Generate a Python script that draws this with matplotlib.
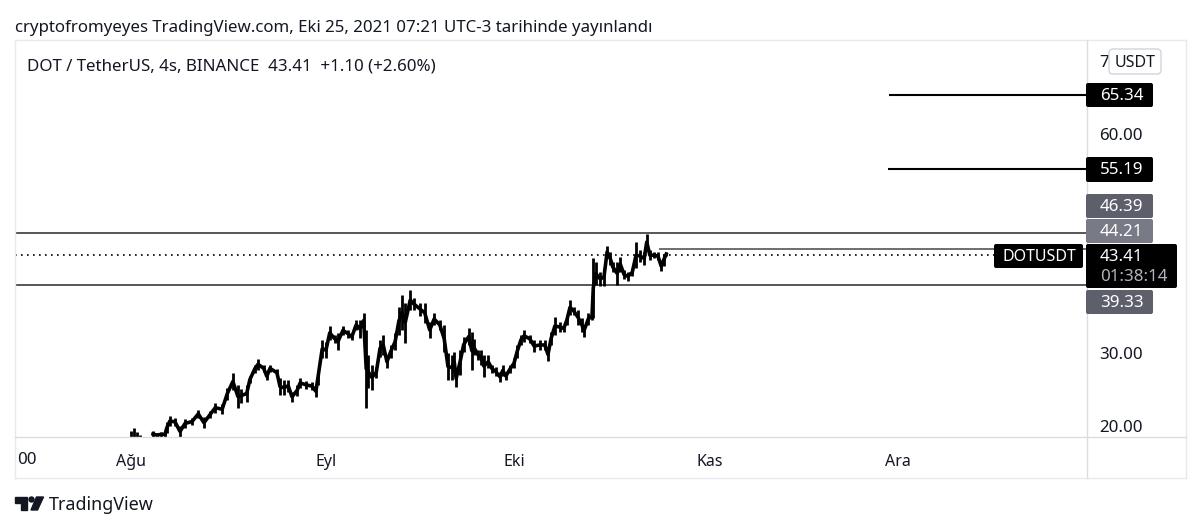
import numpy as np
import matplotlib
matplotlib.use("Agg")
import matplotlib.pyplot as plt
from matplotlib.lines import Line2D
from matplotlib.patches import FancyBboxPatch, Polygon, Circle

# --- DATA ---
# days since Aug 1
bar_days = [0.0, 0.5, 1.0, 1.4, 3.5, 4.1, 4.8, 5.4, 5.7, 6.2, 7.0, 7.8, 8.6, 9.7, 10.7, 11.6, 12.6, 13.4, 14.5, 15.3,
            16.2, 17.0, 17.5, 18.4, 18.9, 19.7, 20.2, 21.1, 21.6, 22.1, 23.2, 23.7, 24.3, 25.0, 25.6, 26.4, 26.9, 27.8, 28.8, 29.4,
            29.7, 30.4, 31.0, 31.6, 32.4, 32.9, 33.7, 34.5, 35.1, 35.8, 36.4, 37.0, 37.4, 37.7, 38.3, 39.0, 39.6, 40.1, 40.7, 41.3,
            42.0, 42.6, 43.1, 43.6, 44.4, 45.0, 46.0, 46.7, 47.5, 48.2, 49.1, 49.8, 50.4, 51.0, 51.4, 51.7, 52.3, 52.9, 53.7, 54.2,
            54.5, 55.2, 55.7, 56.1, 56.8, 57.4, 58.0, 58.7, 59.1, 59.6, 60.3, 60.9, 61.4, 62.0, 62.5, 63.4, 64.1, 65.0, 65.8, 66.3,
            66.8, 67.4, 68.2, 68.8, 69.3, 69.8, 70.4, 71.1, 71.7, 72.0, 72.7, 73.3, 73.5, 73.9, 74.6, 75.2, 75.7, 76.2, 76.6, 77.3,
            77.8, 78.4, 79.0, 79.7, 80.3, 80.9, 81.6, 82.0, 82.5, 83.2, 83.8, 84.3, 84.7, 85.1]
bar_highs = [19.3, 19.7, 19.2, 18.8, 19.3, 19.0, 19.2, 19.2, 20.5, 21.4, 21.1, 20.0, 21.0, 21.1, 22.2, 21.2, 22.1, 23.2, 23.0, 25.2,
             27.3, 25.6, 25.1, 25.6, 26.8, 28.4, 29.2, 28.4, 27.3, 28.4, 27.8, 26.6, 26.3, 26.3, 24.7, 25.6, 26.6, 26.2, 26.0, 25.5,
             27.4, 31.8, 31.5, 33.7, 32.5, 32.7, 33.7, 33.2, 32.6, 34.5, 34.5, 35.5, 33.2, 29.7, 28.4, 28.1, 31.8, 32.5, 29.7, 31.1,
             32.7, 36.3, 37.9, 36.9, 38.6, 37.5, 36.9, 36.9, 34.2, 35.5, 34.5, 33.8, 30.0, 29.7, 30.1, 27.7, 30.4, 32.2, 33.4, 32.9,
             31.9, 30.4, 30.4, 29.7, 29.7, 28.4, 28.1, 27.4, 28.4, 27.4, 28.4, 29.3, 31.1, 32.5, 33.2, 32.5, 31.8, 31.8, 31.8, 30.7,
             32.9, 34.9, 34.2, 33.8, 35.2, 37.3, 36.3, 35.9, 34.8, 33.8, 35.5, 35.6, 43.0, 42.5, 41.1, 41.6, 44.7, 43.8, 42.5, 42.5,
             43.2, 41.4, 41.1, 41.6, 45.2, 44.1, 43.8, 46.3, 44.1, 43.8, 43.8, 42.6, 43.6, 43.8]
bar_lows = [18.5, 18.5, 18.5, 18.5, 18.5, 18.5, 18.5, 18.5, 19.0, 20.0, 20.0, 18.5, 19.7, 20.1, 21.1, 19.7, 21.1, 21.8, 21.6, 23.6,
            24.9, 22.5, 23.2, 23.3, 25.9, 27.3, 27.7, 27.4, 26.3, 27.4, 26.8, 24.2, 24.2, 24.7, 23.3, 24.1, 25.2, 25.1, 24.9, 24.0,
            25.6, 29.3, 29.3, 31.8, 31.4, 30.4, 32.5, 32.1, 31.8, 33.2, 32.1, 33.4, 22.5, 25.2, 24.9, 26.6, 29.5, 29.7, 27.9, 29.3,
            30.4, 32.5, 33.2, 31.4, 35.9, 35.9, 35.1, 34.1, 32.1, 33.8, 33.2, 30.1, 26.3, 26.3, 27.4, 25.3, 27.0, 30.1, 31.1, 27.7,
            29.7, 29.0, 28.4, 26.7, 27.9, 27.3, 26.8, 26.0, 26.8, 26.3, 27.3, 27.9, 29.3, 31.1, 31.5, 31.4, 30.1, 30.4, 30.4, 28.9,
            31.1, 32.5, 32.9, 32.9, 33.8, 35.2, 35.2, 33.8, 32.9, 32.2, 33.8, 34.5, 34.8, 39.3, 39.2, 39.2, 43.0, 42.1, 41.1, 39.3,
            41.1, 40.1, 39.9, 40.5, 41.6, 42.5, 42.1, 44.1, 42.7, 43.0, 42.7, 41.2, 41.9, 43.3]

month_days = [0, 31, 61, 92, 122]
month_labels = ["Ağu", "Eyl", "Eki", "Kas", "Ara"]
price_ticks = [20, 30, 60, 70]
# the 70.00 label sits behind the USDT button, only its first digit shows
price_labels = ["20.00", "30.00", "60.00", "7"]

target_prices = [65.34, 55.19]
target_start_days = [120.5, 120.3]
band_prices = [46.39, 39.33]
pivot_price = 44.21
pivot_start_day = 84.0
last_price = 43.41
last_line_end_day = 137.2

W, H = 1200, 530
FONT = "Noto Sans"
plt.rcParams["font.family"] = FONT


def fx(x):
    return x / W


def fy(y):
    return 1 - y / H


fig = plt.figure(figsize=(W / 100, H / 100), dpi=100, facecolor="white")

# chart pane
ax = fig.add_axes([fx(15), fy(437), (1087 - 15) / W, (437 - 40) / H])
ax.set_xlim(-18.44, 152.0)
ax.set_ylim(18.49, 72.88)
for s in ax.spines.values():
    s.set_visible(False)

days = np.array(bar_days)
highs = np.array(bar_highs)
lows = np.array(bar_lows)
ax.vlines(days, lows, highs, color="black", lw=2.0, zorder=3)
ax.plot(days[4:], ((highs + lows) / 2)[4:], color="black", lw=2.6, zorder=3)

# drawn levels
ax.hlines(band_prices, -18.44, 152, color="#3a3a3a", lw=1.2, zorder=2)
ax.hlines(pivot_price, pivot_start_day, 152, color="#555555", lw=1.2, zorder=2)
ax.hlines(target_prices, target_start_days, 152, color="black", lw=1.5, zorder=2)
ax.plot([-18.44, last_line_end_day], [last_price, last_price], color="black", lw=1.2,
        ls=(0, (1, 2.6)), zorder=2)

ax.set_xticks(month_days)
ax.set_xticklabels(month_labels, fontsize=11.5, color="#131722", fontweight="bold")
ax.set_yticks(price_ticks)
ax.set_yticklabels(price_labels, fontsize=12.2, color="#131722")
ax.yaxis.tick_right()
ax.tick_params(axis="both", length=0)
ax.tick_params(axis="x", pad=12)
ax.tick_params(axis="y", pad=9)

# pane frame
frame_color = "#e8e9ee"
for xs, ys in [((15, 1186), (40, 40)), ((15, 1186), (478, 478)),
               ((15, 15), (40, 478)), ((1186, 1186), (40, 478))]:
    fig.add_artist(Line2D([fx(xs[0]), fx(xs[1])], [fy(ys[0]), fy(ys[1])], color=frame_color, lw=1.0))
for xs, ys in [((15, 1186), (437, 437)), ((1087, 1087), (40, 478))]:
    fig.add_artist(Line2D([fx(xs[0]), fx(xs[1])], [fy(ys[0]), fy(ys[1])], color="#dcdde2", lw=1.0))


def tag(x0, y0, x1, y1, color, edge=None, r=2):
    # rounded label box, given in picture pixels
    box = FancyBboxPatch((x0 + r, H - y1 + r), x1 - x0 - 2 * r, y1 - y0 - 2 * r,
                         boxstyle=f"round,pad={r},rounding_size={r}",
                         transform=None, facecolor=color, edgecolor=edge or color,
                         lw=1 if edge else 0, zorder=6)
    fig.add_artist(box)


def label(x, y, s, color="white", size=12.2, ha="left", **kw):
    fig.text(fx(x), fy(y + 1), s, color=color, fontsize=size, ha=ha, va="center", zorder=7, **kw)


# price tags
tag(1086, 83, 1153, 107, "black")
label(1100, 95, "65.34")
tag(1086, 157, 1153, 182, "black")
label(1100, 169.5, "55.19")
tag(1086, 194, 1153, 218, "#5d606b")
label(1100, 206, "46.39")
tag(1086, 219, 1153, 243, "#787b86")
label(1100, 231, "44.21")
tag(1086, 290, 1153, 314, "#5d606b")
label(1100, 302, "39.33")
tag(1086, 244, 1177, 288, "black")
label(1100, 256, "43.41")
label(1100, 276, "01:38:14", color="#b2b5be")
tag(994, 244, 1083, 268, "black")
label(1003, 256, "DOTUSDT", size=11.5)
tag(1109, 49, 1161, 74, "white", edge="#d1d4dc", r=4)
label(1135, 62, "USDT", color="#131722", ha="center", size=11.5)

# titles
label(15, 27, "cryptofromyeyes TradingView.com, Eki 25, 2021 07:21 UTC-3 tarihinde yayınlandı",
      color="#131722", size=12.15)
label(27, 65.5, "DOT / TetherUS, 4s, BINANCE  43.41  +1.10 (+2.60%)", color="#131722", size=12.2)
label(17, 459, "00", color="#131722", size=12.2)

# logo
logo = "#131722"
fig.add_artist(Polygon([[fx(15), fy(497)], [fx(27.5), fy(497)], [fx(27.5), fy(510)], [fx(21), fy(510)],
                        [fx(21), fy(502.5)], [fx(15), fy(502.5)]], closed=True, color=logo,
                       transform=fig.transFigure))
fig.add_artist(Circle((31.5, H - 499.5), 2.5, color=logo, transform=None))
fig.add_artist(Polygon([[fx(36.5), fy(497)], [fx(43.5), fy(497)], [fx(37.5), fy(510)], [fx(31), fy(510)]],
                       closed=True, color=logo, transform=fig.transFigure))
label(49, 504, "TradingView", color="#131722", size=12.9)

fig.savefig("out.png", dpi=100)
